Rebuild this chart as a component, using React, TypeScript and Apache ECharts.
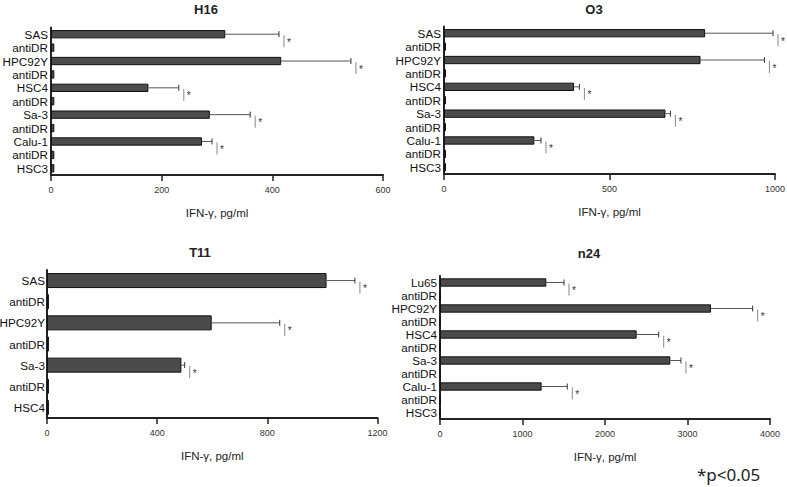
import React, { useEffect, useRef } from "react";
import * as echarts from "echarts";

// ---- Data ----
const H16_CATS = ["SAS", "antiDR", "HPC92Y", "antiDR", "HSC4", "antiDR", "Sa-3", "antiDR", "Calu-1", "antiDR", "HSC3"];
const H16_VALUES = [315, 6, 416, 6, 176, 6, 287, 6, 273, 6, 6];
const H16_ERR_UPPER = [412, null, 542, null, 231, null, 360, null, 291, null, null];

const O3_CATS = ["SAS", "antiDR", "HPC92Y", "antiDR", "HSC4", "antiDR", "Sa-3", "antiDR", "Calu-1", "antiDR", "HSC3"];
const O3_VALUES = [789, 6, 775, 6, 393, 6, 669, 6, 273, 6, 6];
const O3_ERR_UPPER = [994, null, 968, null, 409, null, 684, null, 293, null, null];

const T11_CATS = ["SAS", "antiDR", "HPC92Y", "antiDR", "Sa-3", "antiDR", "HSC4"];
const T11_VALUES = [1015, 7, 598, 7, 488, 7, 7];
const T11_ERR_UPPER = [1118, null, 845, null, 500, null, null];

const N24_CATS = ["Lu65", "antiDR", "HPC92Y", "antiDR", "HSC4", "antiDR", "Sa-3", "antiDR", "Calu-1", "antiDR", "HSC3"];
const N24_VALUES = [1289, 0, 3285, 0, 2384, 0, 2792, 0, 1232, 0, 0];
const N24_ERR_UPPER = [1503, null, 3790, null, 2651, null, 2921, null, 1543, null, null];

const TITLES = ["H16", "O3", "T11", "n24"];
const X_MAX = [600, 1000, 1200, 4000];
const X_INTERVAL = [200, 500, 400, 1000];
const X_NAME = "IFN-γ, pg/ml";
const NOTE = "*p<0.05";

const FONT = "'Liberation Sans', Arial, sans-serif";

export default function App() {
  const ref = useRef<HTMLDivElement>(null);

  useEffect(() => {
    if (!ref.current) return;
    const chart = echarts.init(ref.current, undefined, { renderer: "svg" });

    const panels = [
      { cats: H16_CATS, vals: H16_VALUES, errs: H16_ERR_UPPER, grid: { left: 51, top: 27.5, width: 332, height: 147.5 }, barWidth: "62%", title: [206, 9], labelMargin: 3 },
      { cats: O3_CATS, vals: O3_VALUES, errs: O3_ERR_UPPER, grid: { left: 444, top: 26.5, width: 331, height: 147.5 }, barWidth: "62%", title: [594, 9], labelMargin: 3 },
      { cats: T11_CATS, vals: T11_VALUES, errs: T11_ERR_UPPER, grid: { left: 47, top: 270, width: 330.5, height: 148 }, barWidth: "71%", title: [200, 252], labelMargin: 2 },
      { cats: N24_CATS, vals: N24_VALUES, errs: N24_ERR_UPPER, grid: { left: 440, top: 276, width: 330, height: 143 }, barWidth: "64%", title: [589, 253], labelMargin: 3 },
    ];

    const grids: any[] = [];
    const xAxes: any[] = [];
    const yAxes: any[] = [];
    const series: any[] = [];
    const graphics: any[] = [];

    panels.forEach((p, i) => {
      grids.push({ ...p.grid, containLabel: false, outerBoundsMode: "none" });
      xAxes.push({
        type: "value",
        gridIndex: i,
        min: 0,
        max: X_MAX[i],
        interval: X_INTERVAL[i],
        name: X_NAME,
        nameLocation: "middle",
        nameGap: 32,
        nameTextStyle: { fontFamily: FONT, fontSize: 11.5, color: "#222" },
        axisLine: { show: true, lineStyle: { color: "#222", width: 2 } },
        axisTick: { show: true, length: 6, lineStyle: { color: "#222", width: 1.5 } },
        axisLabel: { fontFamily: FONT, fontSize: 9, color: "#333", margin: 10, formatter: (v: number) => String(v) },
        splitLine: { show: false },
      });
      yAxes.push({
        type: "category",
        gridIndex: i,
        inverse: true,
        data: p.cats,
        axisLine: { show: true, lineStyle: { color: "#222", width: 2 } },
        axisTick: { show: false },
        axisLabel: { fontFamily: FONT, fontSize: 11.7, color: "#111", margin: p.labelMargin, interval: 0 },
        splitLine: { show: false },
      });
      series.push({
        type: "bar",
        xAxisIndex: i,
        yAxisIndex: i,
        data: p.vals,
        barWidth: p.barWidth,
        itemStyle: { color: "#4b4b4b", borderColor: "#111", borderWidth: 1 },
      });
      const errData = p.errs
        .map((e, idx) => (e == null ? null : [p.vals[idx], idx, e]))
        .filter((d) => d != null);
      series.push({
        type: "custom",
        xAxisIndex: i,
        yAxisIndex: i,
        clip: false,
        z: 3,
        data: errData,
        encode: { x: 2, y: 1 },
        itemStyle: { color: "#333" },
        renderItem: (params: any, api: any) => {
          const v = api.value(0);
          const idx = api.value(1);
          const e = api.value(2);
          const p0 = api.coord([v, idx]);
          const p1 = api.coord([e, idx]);
          return {
            type: "group",
            children: [
              { type: "line", shape: { x1: p0[0], y1: p0[1], x2: p1[0], y2: p1[1] }, style: { stroke: "#555", lineWidth: 1 } },
              { type: "line", shape: { x1: p1[0], y1: p1[1] - 3, x2: p1[0], y2: p1[1] + 3 }, style: { stroke: "#333", lineWidth: 1 } },
              { type: "line", shape: { x1: p1[0] + 5, y1: p1[1] + 1, x2: p1[0] + 5, y2: p1[1] + 13 }, style: { stroke: "#888", lineWidth: 1 } },
              { type: "text", x: p1[0] + 8, y: p1[1] + 8, style: { text: "*", fontSize: 10, fontFamily: FONT, fill: "#333", stroke: "none", verticalAlign: "middle" } },
            ],
          };
        },
      });
      graphics.push({
        type: "text",
        x: p.title[0],
        y: p.title[1],
        style: { text: TITLES[i], fontFamily: FONT, fontSize: 13, fontWeight: "bold", fill: "#222", align: "center", verticalAlign: "middle" },
      });
    });

    graphics.push({
      type: "text",
      x: 697,
      y: 474,
      style: { text: NOTE, fontFamily: "'Noto Sans', sans-serif", fontSize: 17, fill: "#222", verticalAlign: "middle" },
    });

    chart.setOption({
      animation: false,
      backgroundColor: "#fff",
      grid: grids,
      xAxis: xAxes,
      yAxis: yAxes,
      series,
      graphic: graphics,
    });

    return () => chart.dispose();
  }, []);

  return <div ref={ref} style={{ position: "fixed", left: 0, top: 0, width: 787, height: 487 }} />;
}
